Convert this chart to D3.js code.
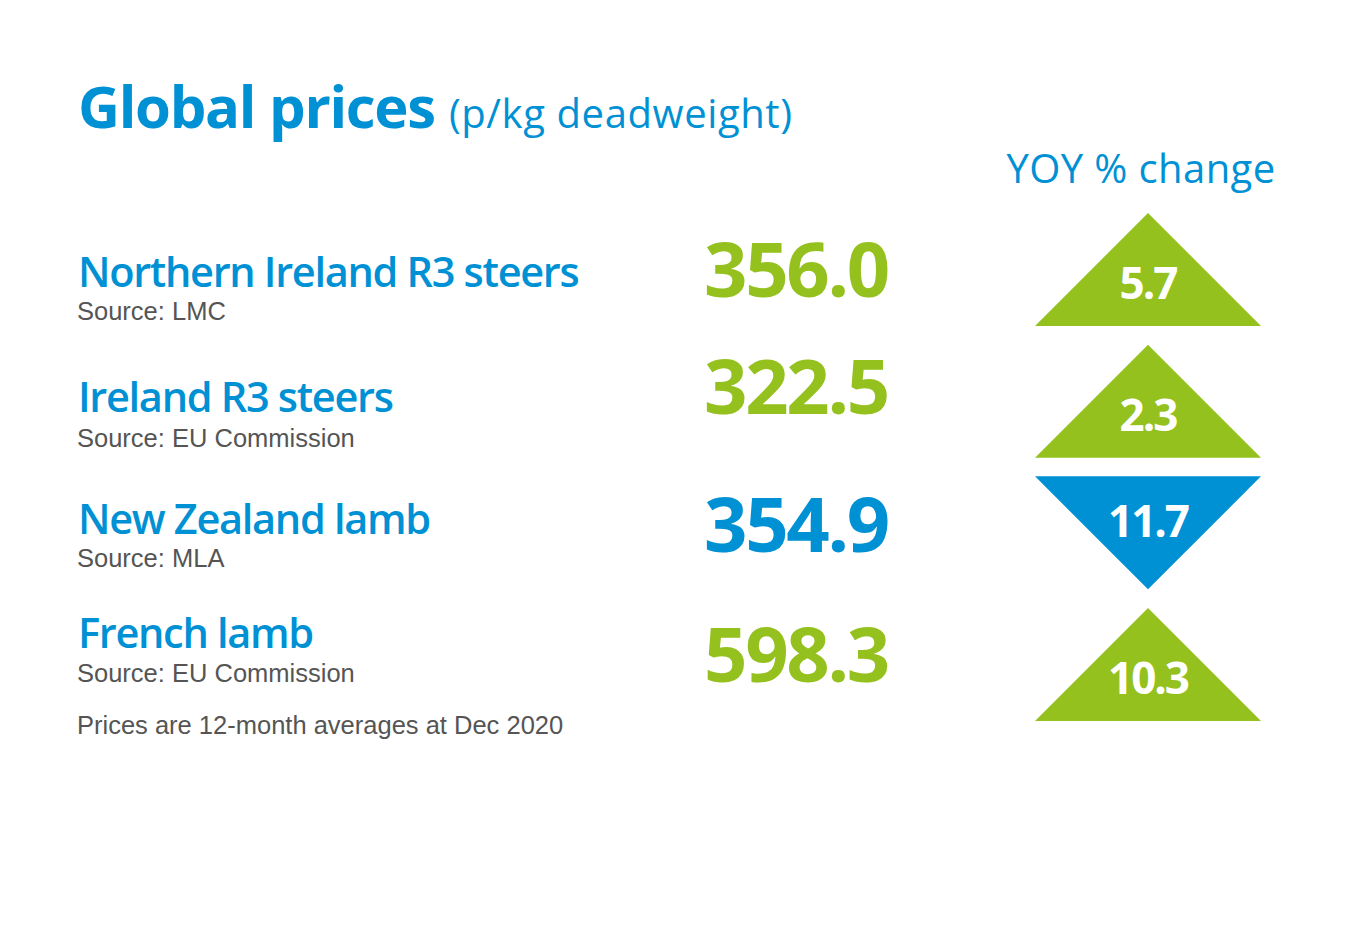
<!DOCTYPE html>
<html><head><meta charset="utf-8">
<script src="https://cdn.jsdelivr.net/npm/d3@7"></script>
<style>body{margin:0;background:#fff}svg{display:block}</style>
</head><body>
<script>
const categories = ["Northern Ireland R3 steers","Ireland R3 steers","New Zealand lamb","French lamb"];
const sources = ["Source: LMC","Source: EU Commission","Source: MLA","Source: EU Commission"];
const prices = [356.0, 322.5, 354.9, 598.3];
const yoyChange = [5.7, 2.3, -11.7, 10.3];
const title = "Global prices", subtitle = "(p/kg deadweight)";
const yoyTitle = "YOY % change";
const footnote = "Prices are 12-month averages at Dec 2020";

const W = 1370, H = 930;
const BLUE = "#0091d5", GREEN = "#95c11f", GREY = "#555555";
const HEAD = "'Open Sans', 'Noto Sans', sans-serif";
const BODY = "'Liberation Sans', Arial, sans-serif";

const svg = d3.select("body").append("svg").attr("width", W).attr("height", H);

// title
const t = svg.append("text").attr("x", 78).attr("y", 128).attr("fill", BLUE).attr("font-family", HEAD);
t.append("tspan").attr("font-weight", 700).attr("font-size", 58).attr("letter-spacing", -1.3).text(title);
t.append("tspan").attr("font-weight", 400).attr("font-size", 40).attr("dx", 14).attr("letter-spacing", 0.6).text(subtitle);

svg.append("text").attr("x", 1141).attr("y", 183).attr("text-anchor", "middle")
  .attr("fill", BLUE).attr("font-family", HEAD).attr("font-size", 40).attr("letter-spacing", 0.4).text(yoyTitle);

// row layout
const rowIdx = d3.range(categories.length);
const triY = d3.scaleLinear().domain([0, 3]).range([213, 608]); // top of each triangle box
const labelY = [287, 412, 534, 648];
const sourceY = [320, 447, 567, 682];
const valueY = [297, 414, 552, 682];
const triH = 113, triHalfW = 113, triCx = 1148;

const rows = svg.selectAll("g.row").data(rowIdx).join("g").attr("class", "row");

rows.append("text").attr("x", 78).attr("y", i => labelY[i])
  .attr("fill", BLUE).attr("font-family", HEAD).attr("font-weight", 600).attr("font-size", 41.5).attr("letter-spacing", -1.3)
  .text(i => categories[i]);
rows.append("text").attr("x", 77).attr("y", i => sourceY[i])
  .attr("fill", GREY).attr("font-family", BODY).attr("font-size", 25.5)
  .text(i => sources[i]);
rows.append("text").attr("x", 704).attr("y", i => valueY[i])
  .attr("fill", i => yoyChange[i] >= 0 ? GREEN : BLUE).attr("font-family", HEAD).attr("font-weight", 700)
  .attr("font-size", 76).attr("letter-spacing", -2.3)
  .text(i => d3.format(".1f")(prices[i]));

rows.append("path")
  .attr("fill", i => yoyChange[i] >= 0 ? GREEN : BLUE)
  .attr("d", i => {
    const y0 = triY(i), y1 = y0 + triH;
    return yoyChange[i] >= 0
      ? `M${triCx},${y0}L${triCx + triHalfW},${y1}L${triCx - triHalfW},${y1}Z`
      : `M${triCx - triHalfW},${y0}L${triCx + triHalfW},${y0}L${triCx},${y1}Z`;
  });
rows.append("text").attr("x", triCx).attr("text-anchor", "middle")
  .attr("y", i => yoyChange[i] >= 0 ? triY(i) + 86 : triY(i) + 61)
  .attr("fill", "#fff").attr("font-family", HEAD).attr("font-weight", 700).attr("font-size", 44).attr("letter-spacing", -2)
  .text(i => d3.format(".1f")(Math.abs(yoyChange[i])));

svg.append("text").attr("x", 77).attr("y", 734).attr("fill", GREY).attr("font-family", BODY)
  .attr("font-size", 25.5).text(footnote);
</script>
</body></html>
